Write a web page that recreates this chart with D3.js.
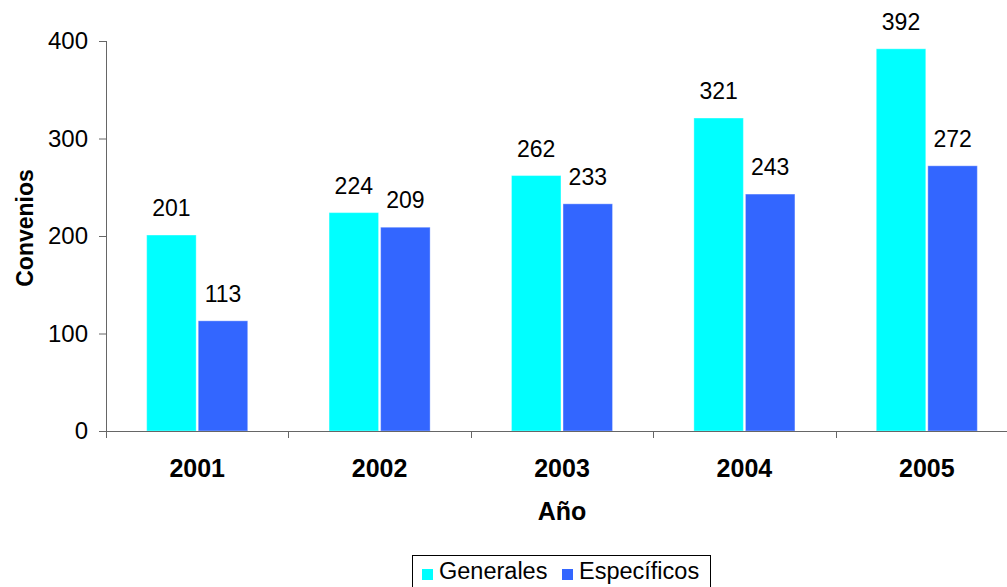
<!DOCTYPE html>
<html>
<head>
<meta charset="utf-8">
<script src="https://cdn.jsdelivr.net/npm/d3@7"></script>
<style>
  html, body { margin: 0; padding: 0; background: #fff; }
  svg { display: block; font-family: "Liberation Sans", Arial, sans-serif; }
</style>
</head>
<body>
<svg id="chart" width="1007" height="587"></svg>
<script>
const years = ["2001", "2002", "2003", "2004", "2005"];
const seriesNames = ["Generales", "Específicos"];
const generales = [201, 224, 262, 321, 392];
const especificos = [113, 209, 233, 243, 272];
const yTicks = [0, 100, 200, 300, 400];
const colors = ["#00FFFF", "#3366FF"];

(function () {
const svg = d3.select("#chart");
const pLeft = 106, pRight = 1018, pTop = 41, pBottom = 431;

const y = d3.scaleLinear().domain([0, 400]).range([pBottom, pTop]);
const x0 = d3.scaleBand().domain(years).range([pLeft, pRight]).paddingInner(0.446).paddingOuter(0.223);
const x1 = d3.scaleBand().domain(seriesNames).range([0, x0.bandwidth()]).paddingInner(0.04);
const color = d3.scaleOrdinal().domain(seriesNames).range(colors);

const data = years.map((yr, i) => ({ year: yr, values: [
  { name: seriesNames[0], value: generales[i] },
  { name: seriesNames[1], value: especificos[i] }
]}));

// bars
const groups = svg.append("g").selectAll("g").data(data).join("g")
  .attr("transform", d => `translate(${x0(d.year)},0)`);
groups.selectAll("rect").data(d => d.values).join("rect")
  .attr("x", d => x1(d.name))
  .attr("y", d => y(d.value))
  .attr("width", x1.bandwidth())
  .attr("height", d => y(0) - y(d.value))
  .attr("fill", d => color(d.name))
  .attr("stroke", "rgba(255,255,255,0.35)")
  .attr("stroke-width", 1);
groups.selectAll("text").data(d => d.values).join("text")
  .attr("x", d => x1(d.name) + x1.bandwidth() / 2)
  .attr("y", d => y(d.value) - 19)
  .attr("text-anchor", "middle")
  .attr("font-size", 23)
  .attr("fill", "#000")
  .text(d => d.value);

// y axis
const yAxis = d3.axisLeft(y).tickValues(yTicks).tickSize(7).tickPadding(11).tickFormat(d3.format("d"));
const gy = svg.append("g").attr("transform", `translate(${pLeft},0)`).call(yAxis);
gy.select(".domain").remove();
gy.selectAll(".tick line").attr("stroke", "#666");
gy.selectAll(".tick text").attr("font-size", 24).attr("fill", "#000")
  .attr("font-family", "Liberation Sans, Arial, sans-serif");
svg.append("line").attr("x1", pLeft + 0.5).attr("x2", pLeft + 0.5)
  .attr("y1", y(400)).attr("y2", y(0) + 7).attr("stroke", "#666");

// x axis
const xAxis = d3.axisBottom(x0).tickSize(0).tickPadding(28);
const gx = svg.append("g").attr("transform", `translate(0,${pBottom})`).call(xAxis);
gx.select(".domain").remove();
gx.selectAll(".tick text").attr("font-size", 25).attr("font-weight", "bold").attr("fill", "#000")
  .attr("font-family", "Liberation Sans, Arial, sans-serif");
svg.append("line").attr("x1", pLeft).attr("x2", 1007)
  .attr("y1", pBottom + 0.5).attr("y2", pBottom + 0.5).attr("stroke", "#666");
const boundaries = years.slice(1).map(yr => x0(yr) - x0.step() * x0.paddingInner() / 2);
svg.append("g").selectAll("line").data(boundaries).join("line")
  .attr("x1", d => Math.round(d) + 0.5)
  .attr("x2", d => Math.round(d) + 0.5)
  .attr("y1", pBottom).attr("y2", pBottom + 7).attr("stroke", "#666");

// axis titles
svg.append("text").attr("x", 562).attr("y", 520).attr("text-anchor", "middle")
  .attr("font-size", 25).attr("font-weight", "bold").text("Año");
svg.append("text").attr("transform", "translate(33,228) rotate(-90)").attr("text-anchor", "middle")
  .attr("font-size", 23).attr("font-weight", "bold").text("Convenios");

// legend
const lg = svg.append("g");
lg.append("rect").attr("x", 412.5).attr("y", 555.5).attr("width", 298).attr("height", 45)
  .attr("fill", "#fff").attr("stroke", "#000");
const legendX = [422, 562];
seriesNames.forEach((s, i) => {
  lg.append("rect").attr("x", legendX[i]).attr("y", 569).attr("width", 11).attr("height", 11).attr("fill", color(s));
  lg.append("text").attr("x", legendX[i] + 17).attr("y", 579).attr("font-size", 23.5).text(s);
});
})();
</script>
</body>
</html>
